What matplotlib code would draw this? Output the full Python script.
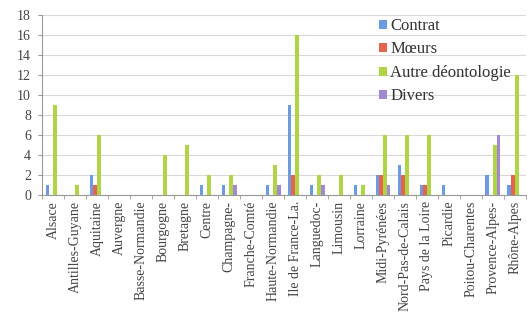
import matplotlib.pyplot as plt
import numpy as np

regions = ["Alsace", "Antilles-Guyane", "Aquitaine", "Auvergne", "Basse-Normandie",
           "Bourgogne", "Bretagne", "Centre", "Champagne-", "Franche-Comté",
           "Haute-Normandie", "Ile de France-La.", "Languedoc-", "Limousin", "Lorraine",
           "Midi-Pyrénées", "Nord-Pas-de-Calais", "Pays de la Loire", "Picardie",
           "Poitou-Charentes", "Provence-Alpes-", "Rhône-Alpes"]

contrat = [1, 0, 2, 0, 0, 0, 0, 1, 1, 0, 1, 9, 1, 0, 1, 2, 3, 1, 1, 0, 2, 1]
moeurs = [0, 0, 1, 0, 0, 0, 0, 0, 0, 0, 0, 2, 0, 0, 0, 2, 2, 1, 0, 0, 0, 2]
autre = [9, 1, 6, 0, 0, 4, 5, 2, 2, 0, 3, 16, 2, 2, 1, 6, 6, 6, 0, 0, 5, 12]
divers = [0, 0, 0, 0, 0, 0, 0, 0, 1, 0, 1, 0, 1, 0, 0, 1, 0, 0, 0, 0, 6, 0]

series = [("Contrat", contrat, "#6b9be0"),
          ("Mœurs", moeurs, "#e6634e"),
          ("Autre déontologie", autre, "#afd444"),
          ("Divers", divers, "#a287d2")]

plt.rcParams['font.family'] = ['Liberation Serif', 'DejaVu Serif']

fig = plt.figure(figsize=(5.27, 3.2), dpi=100)
ax = fig.add_axes([0.08, 0.39, 0.918, 0.563])

x = np.arange(len(regions))
w = 0.17
for i, (name, vals, col) in enumerate(series):
    ax.bar(x + (i - 1.5) * w, vals, width=w, color=col, label=name, zorder=3)

ax.set_xlim(-0.5, len(regions) - 0.5)
ax.set_ylim(0, 18)
ax.set_yticks(range(0, 19, 2))
ax.yaxis.grid(True, color="#d8d8d8", linewidth=0.8, zorder=0)

ax.set_xticks(x)
ax.set_xticklabels(regions, rotation=90, fontsize=10, color="#444444")
ax.set_xticks(np.arange(-0.5, len(regions), 1), minor=True)
ax.tick_params(axis="x", which="major", length=0, pad=4)
ax.tick_params(axis="x", which="minor", length=3, color="#999999")
ax.tick_params(axis="y", labelsize=10, length=3, pad=5, color="#999999", labelcolor="#444444")

for s in ["top", "right"]:
    ax.spines[s].set_visible(False)
for s in ["left", "bottom"]:
    ax.spines[s].set_color("#999999")

ax.legend(loc="upper left", bbox_to_anchor=(0.68, 1.03), frameon=False, fontsize=12,
          handlelength=0.45, handleheight=0.45, handletextpad=0.2, labelspacing=0.45,
          borderpad=0, labelcolor="#333333")

fig.savefig("out.png", dpi=100)
